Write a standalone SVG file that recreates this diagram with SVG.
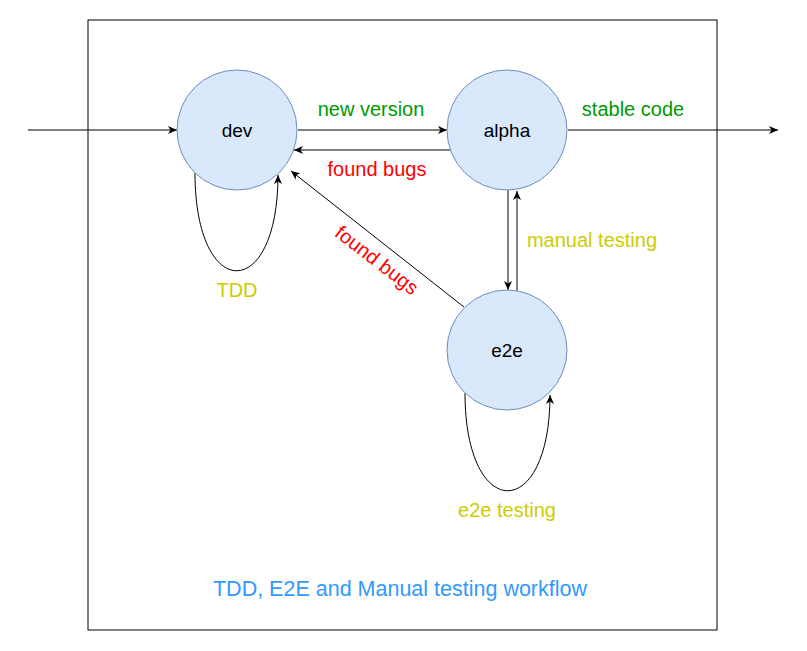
<svg xmlns="http://www.w3.org/2000/svg" width="807" height="651" viewBox="0 0 807 651">
<style>
text{font-family:"Liberation Sans",Arial,Helvetica,sans-serif;}
.node circle{fill:#dae8fc;stroke:#6c8ebf;stroke-width:1;}
.node text{font-size:19px;fill:#000;text-anchor:middle;}
.edge{fill:none;stroke:#000;stroke-width:1;marker-end:url(#arr);}
.lbl{font-size:20px;text-anchor:middle;}
.g{fill:#009900;}
.r{fill:#ff0000;}
.y{fill:#cccc00;}
</style>
<defs>
<marker id="arr" markerUnits="userSpaceOnUse" markerWidth="10" markerHeight="8" refX="9" refY="4" orient="auto">
<path d="M0,0 L9,4 L0,8 L2.5,4 Z" fill="#000"/>
</marker>
</defs>
<rect x="0" y="0" width="807" height="651" fill="#fff"/>
<rect id="frame" x="88" y="20" width="629" height="610" fill="none" stroke="#000" stroke-width="1"/>
<g id="connectors">
<path class="edge" d="M28,130 L177,130"/>
<path class="edge" d="M298,130 L447,130"/>
<path class="edge" d="M568,130 L778,130"/>
<path class="edge" d="M450,150 L294,150"/>
<path class="edge" d="M464,307 L291,171"/>
<path class="edge" d="M508,190 L508,290"/>
<path class="edge" d="M517,291 L517,191"/>
<path class="edge" d="M195,173 C195,303 278,303 278,175"/>
<path class="edge" d="M465,393 C465,523 550,523 550,395"/>
</g>
<g id="labels">
<text class="lbl g" x="371" y="116">new version</text>
<text class="lbl g" x="633" y="116">stable code</text>
<text class="lbl r" x="377" y="176">found bugs</text>
<text class="lbl r" transform="translate(377,260) rotate(37.6)" x="0" y="7">found bugs</text>
<text class="lbl y" x="237" y="297">TDD</text>
<text class="lbl y" x="592" y="247">manual testing</text>
<text class="lbl y" x="507" y="517">e2e testing</text>
</g>
<g id="node-dev" class="node">
<circle cx="237" cy="130" r="60"/>
<text x="237" y="137">dev</text>
</g>
<g id="node-alpha" class="node">
<circle cx="507" cy="130" r="60"/>
<text x="507" y="137">alpha</text>
</g>
<g id="node-e2e" class="node">
<circle cx="507" cy="350" r="60"/>
<text x="507" y="357">e2e</text>
</g>
<g id="title">
<text x="400" y="596" style="font-size:21.5px;fill:#3399ff;text-anchor:middle;">TDD, E2E and Manual testing workflow</text>
</g>
</svg>
